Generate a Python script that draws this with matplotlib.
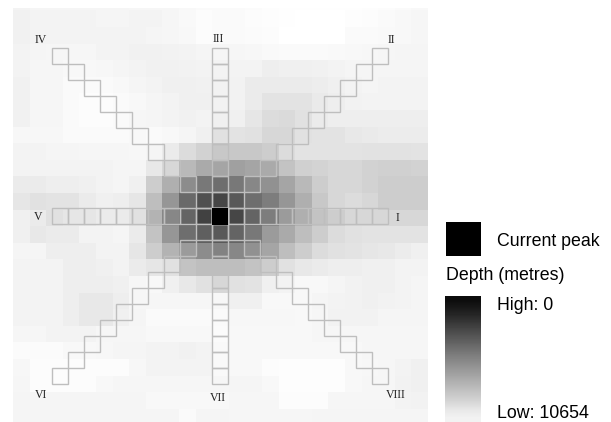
import matplotlib
matplotlib.use('Agg')
import matplotlib.pyplot as plt
from matplotlib.patches import Rectangle
import numpy as np

# grey level of each map cell (0 black, 255 white)
depth_grey = [
    [244,245,245,245,245,245,245,246,246,246,248,250,250,250,251,253,254,254,254,254,254,253,252,250,248],
    [241,243,243,243,243,245,245,244,244,246,249,252,250,250,252,253,254,255,255,255,253,252,250,248,246],
    [241,243,243,244,244,244,244,243,245,246,248,252,250,250,251,252,255,255,255,255,250,250,249,248,246],
    [244,245,246,246,246,244,244,241,241,242,244,245,246,246,247,249,250,250,250,249,248,247,246,245,245],
    [244,246,246,248,248,247,245,243,241,241,242,243,244,243,243,238,240,240,241,243,245,245,245,245,245],
    [241,246,246,250,250,250,248,245,243,240,240,241,242,242,235,235,235,235,237,240,244,245,244,243,243],
    [241,246,246,250,252,252,250,248,245,243,240,240,242,242,235,228,228,228,234,238,242,244,244,243,243],
    [241,246,246,250,252,252,250,246,245,243,241,243,240,240,230,220,218,225,235,238,238,238,238,238,238],
    [247,247,247,250,250,250,250,248,250,248,245,240,225,228,225,215,215,225,228,228,232,234,236,236,236],
    [244,244,245,245,246,246,246,247,245,235,220,210,200,200,200,205,220,228,228,228,228,226,226,226,228],
    [243,243,243,243,243,243,245,245,232,215,185,170,165,160,165,170,195,208,212,215,215,210,208,208,210],
    [235,235,238,238,240,243,245,240,205,175,140,120,110,120,135,145,165,185,205,215,215,210,205,205,205],
    [230,225,228,228,235,240,238,230,190,150,105,80,70,90,110,125,150,175,200,215,220,215,205,205,205],
    [240,235,225,230,230,235,235,225,180,135,100,65,0,70,100,125,155,175,195,205,215,215,215,215,215],
    [240,232,235,235,243,243,245,235,195,150,110,95,90,100,120,155,170,190,205,220,225,228,228,228,228],
    [245,245,238,238,238,243,243,230,205,180,155,140,130,135,145,165,190,205,220,225,228,230,232,236,240],
    [243,243,243,238,238,240,243,235,230,225,195,190,190,190,195,205,225,232,235,238,238,240,240,243,243],
    [243,243,243,238,238,238,240,246,248,240,232,225,215,225,228,240,243,248,248,245,242,240,240,243,245],
    [243,243,243,238,232,232,238,246,246,246,246,246,247,240,240,248,248,248,245,244,242,240,242,243,245],
    [243,243,243,238,232,232,240,245,250,250,250,250,250,247,247,247,247,248,246,242,242,242,245,245,245],
    [246,246,244,244,244,246,246,246,248,248,248,248,251,248,248,248,248,248,246,246,246,246,246,246,246],
    [251,251,251,248,248,247,245,245,244,243,241,244,249,248,248,248,248,248,248,248,248,246,246,246,246],
    [247,252,252,252,252,252,252,247,243,243,243,243,249,248,248,252,253,253,253,253,248,247,246,243,240],
    [246,252,252,252,252,248,246,246,246,246,246,246,246,245,245,248,253,253,253,253,248,246,246,242,240],
    [245,245,245,245,245,245,245,245,248,248,248,248,248,246,246,246,252,252,252,246,246,246,246,244,242],
    [245,245,245,245,245,245,245,245,245,245,250,245,245,246,246,246,246,246,245,245,245,245,245,245,245],
]

# cell steps along each ray
ray_steps = list(range(-10, 11))
ray_dirs = [(1, 0), (1, -1), (0, -1), (-1, -1)]

ray_names = ['I', 'II', 'III', 'IV', 'V', 'VI', 'VII', 'VIII']
ray_label_x = [397, 391, 218, 41, 38, 41, 218, 396]
ray_label_y = [218, 40, 39, 40, 217, 395, 398, 395]

# colour bar shades, top to bottom
legend_shades = [12, 25, 40, 58, 75, 92, 108, 125, 140, 155, 170, 185, 200, 215, 232, 242]

fig = plt.figure(figsize=(6.11, 4.22), dpi=100)
ax = fig.add_axes([0, 0, 1, 1])

# map, last rows run past the frame and get clipped below
im = ax.imshow(depth_grey, cmap='gray', vmin=0, vmax=255, interpolation='nearest',
               extent=[13, 428, 425.4, -6.2], aspect='auto')
im.set_clip_path(Rectangle((13, 8), 415, 414, transform=ax.transData))

# boxes along the rays
for dx, dy in ray_dirs:
    for s in ray_steps:
        ax.add_patch(Rectangle((212 + s * dx * 16, 208 + s * dy * 16), 16, 16,
                               fill=False, edgecolor='#bebebe', linewidth=1.0))

# current peak sits on top of the boxes
ax.add_patch(Rectangle((211.5, 207.5), 16.5, 17, facecolor='black', edgecolor='none', zorder=3))

for name, x, y in zip(ray_names, ray_label_x, ray_label_y):
    ax.text(x, y, name, family='Liberation Serif', fontsize=8.5, color='#222222',
            ha='center', va='center')

# legend
ax.add_patch(Rectangle((446, 222), 35, 34, facecolor='black', edgecolor='none'))
ax.text(497, 241, 'Current peak', family='Liberation Sans', fontsize=12.8, color='black', va='center')
ax.text(446, 276, 'Depth (metres)', family='Liberation Sans', fontsize=12.8, color='black', va='center')
ax.text(497, 306, 'High: 0', family='Liberation Sans', fontsize=12.8, color='black', va='center')
ax.text(497, 414, 'Low: 10654', family='Liberation Sans', fontsize=12.8, color='black', va='center')
ax.imshow(np.array(legend_shades).reshape(-1, 1), cmap='gray', vmin=0, vmax=255,
          interpolation='bilinear', extent=[445, 481, 422, 296], aspect='auto')

ax.set_xlim(0, 611)
ax.set_ylim(422, 0)
ax.axis('off')

plt.savefig('out.png', dpi=100)
plt.close()
